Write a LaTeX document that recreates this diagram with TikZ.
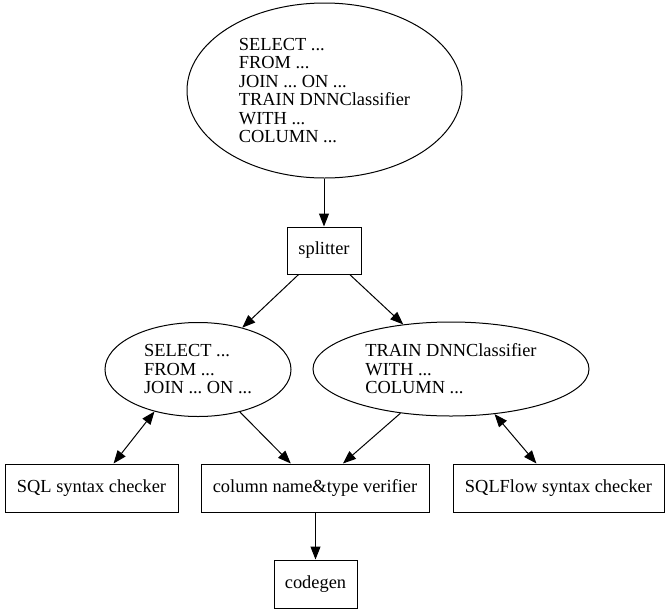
\documentclass[tikz,border=0pt]{standalone}
\usepackage{fontspec}
\setmainfont{Liberation Serif}
\usetikzlibrary{shapes.geometric,arrows.meta}
\frenchspacing

\begin{document}
\begin{tikzpicture}[x=1pt, y=-1pt, line width=1pt,
        every node/.style={font=\fontsize{18.4}{18.5}\selectfont, inner sep=0pt},
        stmt/.style={draw, ellipse, align=left},
        tool/.style={draw, rectangle, minimum height=48pt},
        flow/.style={-{Triangle[length=13pt, width=10pt]}},
        twoway/.style={{Triangle[length=13pt, width=10pt]}-{Triangle[length=13pt, width=10pt]}}]
        \useasboundingbox (0, 0) rectangle (670, 614);
        \node [stmt, minimum width=275pt, minimum height=175pt] (query) at (324.5, 90.5)
            {SELECT ...\\FROM ...\\JOIN ... ON ...\\TRAIN DNNClassifier\\WITH ...\\COLUMN ...};
        \node [tool, minimum width=74pt, minimum height=47pt] (splitter) at (324, 250.5) {splitter};
        \node [stmt, minimum width=186pt, minimum height=94pt] (sel) at (198, 369.5)
            {SELECT ...\\FROM ...\\JOIN ... ON ...};
        \node [stmt, minimum width=276pt, minimum height=94pt] (train) at (451, 369)
            {TRAIN DNNClassifier\\WITH ...\\COLUMN ...};
        \node [tool, minimum width=173pt] (sqlchk) at (91.5, 488) {SQL syntax checker};
        \node [tool, minimum width=228pt] (verifier) at (315, 488) {column name\&type verifier};
        \node [tool, minimum width=211pt] (flowchk) at (558.5, 488) {SQLFlow syntax checker};
        \node [tool, minimum width=83pt] (codegen) at (315.5, 584) {codegen};
        \draw [flow] (query.south -| splitter.north) -- (splitter.north);
        \draw [flow] (splitter) -- (sel);
        \draw [flow] (splitter) -- (train);
        \draw [twoway] (sel.224) -- (sqlchk.48.5);
        \draw [twoway] (train.-46.3) -- (flowchk.132.2);
        \draw [flow] (sel) -- (verifier);
        \draw [flow] (train) -- (verifier);
        \draw [flow] (verifier.south -| codegen.north) -- (codegen.north);
    \end{tikzpicture}
\end{document}
